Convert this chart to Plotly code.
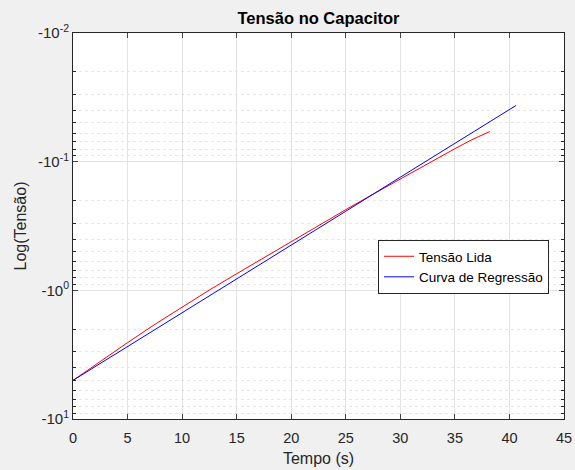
import numpy as np
import plotly.graph_objects as go

# Data (values are negative voltages, plotted on a log axis of magnitude)
tempo_lida = [0, 2, 5, 7.5, 10, 12.5, 15, 17.5, 20, 22.5, 25, 27.5, 30, 32.5, 35, 36.5, 38.2]
tensao_lida = [-5.01, -3.80, -2.55, -1.84, -1.35, -0.994, -0.743, -0.557, -0.418, -0.314,
               -0.236, -0.179, -0.136, -0.1036, -0.0793, -0.0679, -0.0583]

tempo_reg = [0, 5, 10, 15, 20, 25, 30, 35, 40.6]
tensao_reg = [-5.01, -2.74, -1.49, -0.815, -0.445, -0.243, -0.132, -0.0723, -0.0366]

y_tickvals = [0.01, 0.1, 1, 10]
y_ticktext = ["-10<sup>-2</sup>", "-10<sup>-1</sup>", "-10<sup>0</sup>", "-10<sup>1</sup>"]
x_ticks = [0, 5, 10, 15, 20, 25, 30, 35, 40, 45]
minor_vals = [m * 10.0 ** k for k in (-2, -1, 0) for m in range(2, 10)]

font_fam = "Liberation Sans, Arial, sans-serif"
axis_col = "#262626"

fig = go.Figure()
fig.add_trace(go.Scatter(x=tempo_lida, y=np.abs(tensao_lida), mode="lines",
                         name="Tensão Lida", line=dict(color="#ff0000", width=1)))
fig.add_trace(go.Scatter(x=tempo_reg, y=np.abs(tensao_reg), mode="lines",
                         name="Curva de Regressão", line=dict(color="#0000ff", width=1)))

fig.update_layout(
    width=575, height=470,
    margin=dict(l=73, r=11, t=33, b=51, autoexpand=False),
    paper_bgcolor="#f0f0f0", plot_bgcolor="white",
    font=dict(family=font_fam, color=axis_col, size=14),
    title=dict(text="<b>Tensão no Capacitor</b>", x=318.5 / 575, xanchor="center",
               y=1 - 18 / 470, yanchor="middle", font=dict(size=16.5, color="#000000")),
    showlegend=True,
    legend=dict(x=(378 - 73) / 491, y=(419 - 240) / 386, xanchor="left", yanchor="top",
                bgcolor="white", bordercolor=axis_col, borderwidth=1,
                font=dict(size=13.5, color="#000000"), tracegroupgap=0,
                itemwidth=30),
    xaxis=dict(range=[0, 45], tickvals=x_ticks, ticks="inside", ticklen=5,
               showline=True, linecolor=axis_col, linewidth=1, mirror="ticks",
               showgrid=True, gridcolor="#e3e3e3", gridwidth=1, zeroline=False,
               automargin=False, ticklabelstandoff=6,
               title=dict(text="Tempo (s)", standoff=7, font=dict(size=16)),
               tickfont=dict(size=14.5)),
    yaxis=dict(type="log", range=[1, -2], tickvals=y_tickvals, ticktext=y_ticktext,
               ticks="inside", ticklen=5, showline=True, linecolor=axis_col, linewidth=1,
               mirror="ticks", showgrid=True, gridcolor="#e3e3e3", gridwidth=1, zeroline=False,
               automargin=False,
               minor=dict(tickvals=minor_vals, ticks="inside", ticklen=3, tickcolor=axis_col,
                          showgrid=True, gridcolor="#e6e6e6", griddash="dot", gridwidth=1),
               title=dict(text="Log(Tensão)", standoff=7, font=dict(size=16)),
               tickfont=dict(size=15)),
)

fig.write_html("out.html")
